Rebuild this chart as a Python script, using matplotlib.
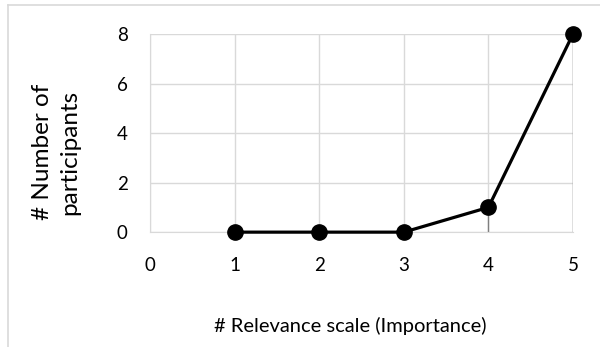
#!/usr/bin/env python3
import matplotlib
matplotlib.use("Agg")
import matplotlib.pyplot as plt
from matplotlib.lines import Line2D

SCALE = [1, 2, 3, 4, 5]
PARTICIPANTS = [0, 0, 0, 1, 8]
X_TICKS = [0, 1, 2, 3, 4, 5]
Y_TICKS = [0, 2, 4, 6, 8]

GRID = "#d9d9d9"


def main():
    plt.rcParams["font.family"] = ["Lato", "DejaVu Sans"]
    fig = plt.figure(figsize=(6.0, 3.47), dpi=100)
    ax = fig.add_axes([0.25, 0.331, 0.705, 0.571])

    # drop lines from each point down to the axis
    for x, y in zip(SCALE, PARTICIPANTS):
        ax.plot([x, x], [0, y], color="#7f7f7f", lw=1.0, zorder=2)

    ax.plot(SCALE, PARTICIPANTS, color="black", lw=2.3, marker="o",
            markersize=11, zorder=3, clip_on=False)

    ax.set_xlim(0, 5)
    ax.set_ylim(0, 8)
    ax.set_xticks(X_TICKS)
    ax.set_yticks(Y_TICKS)
    ax.grid(True, color=GRID, lw=1.0, zorder=0)
    ax.set_axisbelow(True)
    for s in ax.spines.values():
        s.set_visible(False)
    ax.spines["left"].set_visible(True)
    ax.spines["left"].set_color(GRID)
    ax.spines["bottom"].set_visible(True)
    ax.spines["bottom"].set_color(GRID)
    ax.tick_params(length=0, labelsize=13.5, colors="black")
    ax.tick_params(axis="y", pad=16)
    ax.tick_params(axis="x", pad=18)

    fig.text(0.093, 0.562, "# Number of\nparticipants", rotation=90,
             ha="center", va="center", fontsize=17.5, linespacing=1.35)
    fig.text(0.583, 0.06, "# Relevance scale (Importance)",
             ha="center", va="center", fontsize=14.5)

    # chart area border (partly visible)
    fig.add_artist(Line2D([8 / 600, 8 / 600], [0, 1 - 5 / 347],
                          transform=fig.transFigure, color=GRID, lw=1.2))
    fig.add_artist(Line2D([8 / 600, 1], [1 - 5 / 347, 1 - 5 / 347],
                          transform=fig.transFigure, color=GRID, lw=1.2))

    fig.savefig("out.png", dpi=100)


if __name__ == "__main__":
    main()
